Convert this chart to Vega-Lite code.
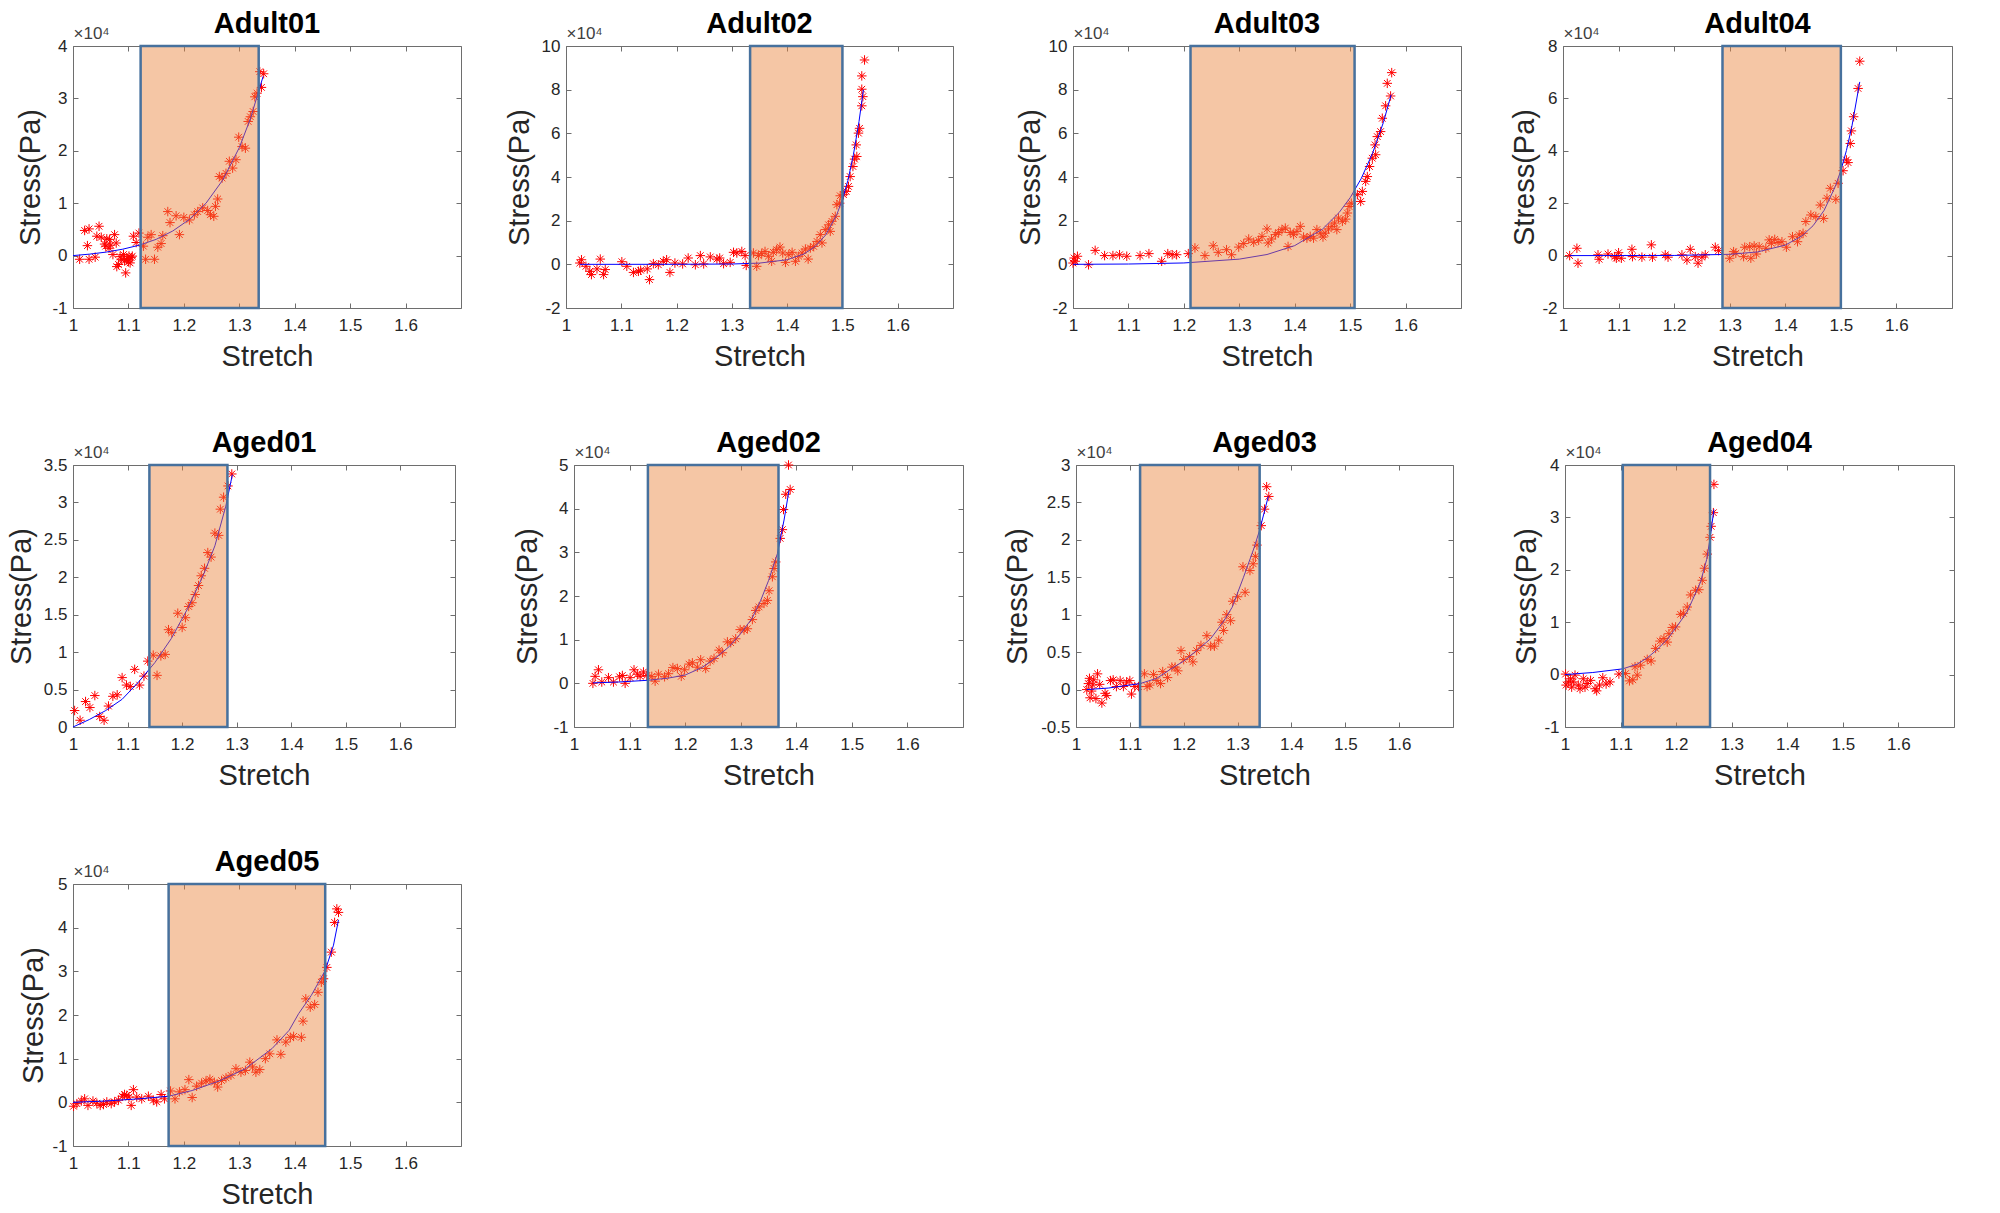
{
"$schema": "https://vega.github.io/schema/vega-lite/v6.json",
"background": "white",
"padding": {"left": 6, "top": 9, "right": 0, "bottom": 0},
"datasets": {
"reg": [
{"s":"Adult01","x0":1.122,"x1":1.335},{"s":"Adult02","x0":1.333,"x1":1.5},{"s":"Adult03","x0":1.212,"x1":1.508},{"s":"Adult04","x0":1.287,"x1":1.5},
{"s":"Aged01","x0":1.14,"x1":1.283},{"s":"Aged02","x0":1.133,"x1":1.368},{"s":"Aged03","x0":1.119,"x1":1.341},{"s":"Aged04","x0":1.104,"x1":1.261},{"s":"Aged05","x0":1.1725,"x1":1.455}
],
"fit": [
{"s":"Adult01","x":1.0,"y":0},{"s":"Adult01","x":1.03,"y":0.028},{"s":"Adult01","x":1.06,"y":0.067},{"s":"Adult01","x":1.09,"y":0.123},{"s":"Adult01","x":1.12,"y":0.2},{"s":"Adult01","x":1.15,"y":0.31},{"s":"Adult01","x":1.18,"y":0.47},{"s":"Adult01","x":1.21,"y":0.69},{"s":"Adult01","x":1.24,"y":1.0},{"s":"Adult01","x":1.27,"y":1.44},{"s":"Adult01","x":1.3,"y":2.06},{"s":"Adult01","x":1.32,"y":2.61},{"s":"Adult01","x":1.343,"y":3.42},
{"s":"Adult02","x":1.025,"y":0},{"s":"Adult02","x":1.1,"y":0},{"s":"Adult02","x":1.2,"y":0.002},{"s":"Adult02","x":1.3,"y":0.015},{"s":"Adult02","x":1.35,"y":0.057},{"s":"Adult02","x":1.4,"y":0.21},{"s":"Adult02","x":1.43,"y":0.47},{"s":"Adult02","x":1.45,"y":0.8},{"s":"Adult02","x":1.47,"y":1.35},{"s":"Adult02","x":1.49,"y":2.29},{"s":"Adult02","x":1.5,"y":2.97},{"s":"Adult02","x":1.51,"y":3.85},{"s":"Adult02","x":1.52,"y":5.04},{"s":"Adult02","x":1.53,"y":6.54},{"s":"Adult02","x":1.538,"y":8.0},
{"s":"Adult03","x":1.0,"y":0},{"s":"Adult03","x":1.1,"y":0.014},{"s":"Adult03","x":1.2,"y":0.063},{"s":"Adult03","x":1.3,"y":0.238},{"s":"Adult03","x":1.35,"y":0.45},{"s":"Adult03","x":1.4,"y":0.857},{"s":"Adult03","x":1.45,"y":1.61},{"s":"Adult03","x":1.48,"y":2.37},{"s":"Adult03","x":1.5,"y":3.05},{"s":"Adult03","x":1.52,"y":3.93},{"s":"Adult03","x":1.54,"y":5.06},{"s":"Adult03","x":1.56,"y":6.5},{"s":"Adult03","x":1.574,"y":7.77},
{"s":"Adult04","x":1.012,"y":0},{"s":"Adult04","x":1.1,"y":0.001},{"s":"Adult04","x":1.2,"y":0.006},{"s":"Adult04","x":1.3,"y":0.049},{"s":"Adult04","x":1.35,"y":0.14},{"s":"Adult04","x":1.4,"y":0.4},{"s":"Adult04","x":1.43,"y":0.75},{"s":"Adult04","x":1.45,"y":1.14},{"s":"Adult04","x":1.47,"y":1.73},{"s":"Adult04","x":1.49,"y":2.64},{"s":"Adult04","x":1.5,"y":3.25},{"s":"Adult04","x":1.51,"y":4.01},{"s":"Adult04","x":1.52,"y":4.95},{"s":"Adult04","x":1.534,"y":6.63},
{"s":"Aged01","x":1.0,"y":0},{"s":"Aged01","x":1.03,"y":0.1},{"s":"Aged01","x":1.06,"y":0.22},{"s":"Aged01","x":1.09,"y":0.37},{"s":"Aged01","x":1.12,"y":0.6},{"s":"Aged01","x":1.15,"y":0.86},{"s":"Aged01","x":1.18,"y":1.18},{"s":"Aged01","x":1.21,"y":1.58},{"s":"Aged01","x":1.24,"y":2.05},{"s":"Aged01","x":1.26,"y":2.42},{"s":"Aged01","x":1.28,"y":2.95},{"s":"Aged01","x":1.292,"y":3.37},
{"s":"Aged02","x":1.034,"y":0.01},{"s":"Aged02","x":1.08,"y":0.03},{"s":"Aged02","x":1.133,"y":0.07},{"s":"Aged02","x":1.17,"y":0.12},{"s":"Aged02","x":1.2,"y":0.19},{"s":"Aged02","x":1.23,"y":0.36},{"s":"Aged02","x":1.252,"y":0.55},{"s":"Aged02","x":1.28,"y":0.85},{"s":"Aged02","x":1.3,"y":1.14},{"s":"Aged02","x":1.32,"y":1.48},{"s":"Aged02","x":1.336,"y":1.9},{"s":"Aged02","x":1.35,"y":2.35},{"s":"Aged02","x":1.366,"y":2.97},{"s":"Aged02","x":1.378,"y":3.74},{"s":"Aged02","x":1.387,"y":4.43},
{"s":"Aged03","x":1.02,"y":0},{"s":"Aged03","x":1.06,"y":0.02},{"s":"Aged03","x":1.119,"y":0.08},{"s":"Aged03","x":1.15,"y":0.15},{"s":"Aged03","x":1.175,"y":0.27},{"s":"Aged03","x":1.2,"y":0.38},{"s":"Aged03","x":1.224,"y":0.52},{"s":"Aged03","x":1.25,"y":0.68},{"s":"Aged03","x":1.273,"y":0.9},{"s":"Aged03","x":1.29,"y":1.1},{"s":"Aged03","x":1.311,"y":1.5},{"s":"Aged03","x":1.33,"y":1.88},{"s":"Aged03","x":1.341,"y":2.13},{"s":"Aged03","x":1.357,"y":2.58},
{"s":"Aged04","x":1.0,"y":0},{"s":"Aged04","x":1.05,"y":0.04},{"s":"Aged04","x":1.104,"y":0.11},{"s":"Aged04","x":1.13,"y":0.2},{"s":"Aged04","x":1.148,"y":0.32},{"s":"Aged04","x":1.165,"y":0.47},{"s":"Aged04","x":1.184,"y":0.67},{"s":"Aged04","x":1.2,"y":0.9},{"s":"Aged04","x":1.22,"y":1.2},{"s":"Aged04","x":1.244,"y":1.77},{"s":"Aged04","x":1.255,"y":2.2},{"s":"Aged04","x":1.2606,"y":2.57},{"s":"Aged04","x":1.268,"y":3.15},
{"s":"Aged05","x":1.0,"y":0},{"s":"Aged05","x":1.058,"y":0.03},{"s":"Aged05","x":1.119,"y":0.08},{"s":"Aged05","x":1.1725,"y":0.14},{"s":"Aged05","x":1.215,"y":0.27},{"s":"Aged05","x":1.264,"y":0.49},{"s":"Aged05","x":1.311,"y":0.77},{"s":"Aged05","x":1.359,"y":1.23},{"s":"Aged05","x":1.39,"y":1.65},{"s":"Aged05","x":1.407,"y":2.03},{"s":"Aged05","x":1.43,"y":2.45},{"s":"Aged05","x":1.455,"y":3.02},{"s":"Aged05","x":1.47,"y":3.6},{"s":"Aged05","x":1.479,"y":4.18}
],
"pts": [
{"s":"Adult01","x":1.012,"y":-0.07},{"s":"Adult01","x":1.021,"y":0.48},{"s":"Adult01","x":1.029,"y":0.51},{"s":"Adult01","x":1.026,"y":0.19},{"s":"Adult01","x":1.029,"y":-0.07},{"s":"Adult01","x":1.04,"y":-0.03},{"s":"Adult01","x":1.047,"y":0.56},{"s":"Adult01","x":1.043,"y":0.37},{"s":"Adult01","x":1.051,"y":0.35},{"s":"Adult01","x":1.059,"y":0.18},{"s":"Adult01","x":1.061,"y":0.32},{"s":"Adult01","x":1.066,"y":0.31},{"s":"Adult01","x":1.065,"y":0.14},{"s":"Adult01","x":1.075,"y":0.4},{"s":"Adult01","x":1.072,"y":0.02},{"s":"Adult01","x":1.078,"y":0.24},{"s":"Adult01","x":1.079,"y":-0.21},{"s":"Adult01","x":1.082,"y":-0.17},{"s":"Adult01","x":1.087,"y":-0.07},{"s":"Adult01","x":1.091,"y":0.02},{"s":"Adult01","x":1.095,"y":-0.33},{"s":"Adult01","x":1.097,"y":-0.08},{"s":"Adult01","x":1.101,"y":-0.01},{"s":"Adult01","x":1.105,"y":-0.04},{"s":"Adult01","x":1.107,"y":-0.01},{"s":"Adult01","x":1.103,"y":-0.14},{"s":"Adult01","x":1.098,"y":-0.05},{"s":"Adult01","x":1.1,"y":-0.12},{"s":"Adult01","x":1.093,"y":-0.1},{"s":"Adult01","x":1.085,"y":-0.02},{"s":"Adult01","x":1.068,"y":0.2},{"s":"Adult01","x":1.057,"y":0.22},{"s":"Adult01","x":1.109,"y":0.37},{"s":"Adult01","x":1.114,"y":0.25},{"s":"Adult01","x":1.119,"y":0.43},{"s":"Adult01","x":1.127,"y":0.18},{"s":"Adult01","x":1.131,"y":-0.07},{"s":"Adult01","x":1.135,"y":0.35},{"s":"Adult01","x":1.141,"y":0.4},{"s":"Adult01","x":1.147,"y":-0.07},{"s":"Adult01","x":1.153,"y":0.16},{"s":"Adult01","x":1.159,"y":0.23},{"s":"Adult01","x":1.162,"y":0.38},{"s":"Adult01","x":1.171,"y":0.84},{"s":"Adult01","x":1.175,"y":0.63},{"s":"Adult01","x":1.186,"y":0.76},{"s":"Adult01","x":1.192,"y":0.4},{"s":"Adult01","x":1.2,"y":0.73},{"s":"Adult01","x":1.21,"y":0.68},{"s":"Adult01","x":1.219,"y":0.78},{"s":"Adult01","x":1.225,"y":0.84},{"s":"Adult01","x":1.234,"y":0.91},{"s":"Adult01","x":1.243,"y":0.86},{"s":"Adult01","x":1.248,"y":0.78},{"s":"Adult01","x":1.254,"y":0.75},{"s":"Adult01","x":1.257,"y":0.94},{"s":"Adult01","x":1.261,"y":1.08},{"s":"Adult01","x":1.264,"y":1.51},{"s":"Adult01","x":1.269,"y":1.48},{"s":"Adult01","x":1.276,"y":1.57},{"s":"Adult01","x":1.282,"y":1.8},{"s":"Adult01","x":1.288,"y":1.67},{"s":"Adult01","x":1.294,"y":1.83},{"s":"Adult01","x":1.299,"y":2.26},{"s":"Adult01","x":1.305,"y":2.08},{"s":"Adult01","x":1.311,"y":2.05},{"s":"Adult01","x":1.316,"y":2.56},{"s":"Adult01","x":1.32,"y":2.65},{"s":"Adult01","x":1.325,"y":2.75},{"s":"Adult01","x":1.328,"y":3.03},{"s":"Adult01","x":1.332,"y":3.1},{"s":"Adult01","x":1.34,"y":3.21},{"s":"Adult01","x":1.337,"y":3.51},{"s":"Adult01","x":1.344,"y":3.47},
{"s":"Adult02","x":1.025,"y":0.06},{"s":"Adult02","x":1.028,"y":0.21},{"s":"Adult02","x":1.036,"y":-0.09},{"s":"Adult02","x":1.043,"y":-0.32},{"s":"Adult02","x":1.046,"y":-0.47},{"s":"Adult02","x":1.056,"y":-0.21},{"s":"Adult02","x":1.062,"y":0.24},{"s":"Adult02","x":1.068,"y":-0.47},{"s":"Adult02","x":1.071,"y":-0.24},{"s":"Adult02","x":1.101,"y":0.12},{"s":"Adult02","x":1.11,"y":-0.09},{"s":"Adult02","x":1.122,"y":-0.37},{"s":"Adult02","x":1.131,"y":-0.32},{"s":"Adult02","x":1.135,"y":-0.27},{"s":"Adult02","x":1.151,"y":-0.7},{"s":"Adult02","x":1.147,"y":-0.21},{"s":"Adult02","x":1.158,"y":0.03},{"s":"Adult02","x":1.167,"y":-0.02},{"s":"Adult02","x":1.176,"y":0.14},{"s":"Adult02","x":1.182,"y":0.21},{"s":"Adult02","x":1.188,"y":-0.37},{"s":"Adult02","x":1.197,"y":0.06},{"s":"Adult02","x":1.211,"y":0.02},{"s":"Adult02","x":1.221,"y":0.29},{"s":"Adult02","x":1.234,"y":-0.02},{"s":"Adult02","x":1.243,"y":0.4},{"s":"Adult02","x":1.249,"y":0.02},{"s":"Adult02","x":1.261,"y":0.34},{"s":"Adult02","x":1.273,"y":0.24},{"s":"Adult02","x":1.278,"y":0.29},{"s":"Adult02","x":1.285,"y":0.03},{"s":"Adult02","x":1.297,"y":0.09},{"s":"Adult02","x":1.303,"y":0.55},{"s":"Adult02","x":1.309,"y":0.52},{"s":"Adult02","x":1.318,"y":0.59},{"s":"Adult02","x":1.324,"y":0.4},{"s":"Adult02","x":1.326,"y":-0.05},{"s":"Adult02","x":1.339,"y":0.52},{"s":"Adult02","x":1.345,"y":-0.09},{"s":"Adult02","x":1.348,"y":0.4},{"s":"Adult02","x":1.354,"y":0.49},{"s":"Adult02","x":1.36,"y":0.59},{"s":"Adult02","x":1.366,"y":0.37},{"s":"Adult02","x":1.372,"y":0.14},{"s":"Adult02","x":1.375,"y":0.55},{"s":"Adult02","x":1.381,"y":0.67},{"s":"Adult02","x":1.387,"y":0.79},{"s":"Adult02","x":1.392,"y":0.52},{"s":"Adult02","x":1.397,"y":0.09},{"s":"Adult02","x":1.403,"y":0.44},{"s":"Adult02","x":1.409,"y":0.55},{"s":"Adult02","x":1.415,"y":0.14},{"s":"Adult02","x":1.421,"y":0.37},{"s":"Adult02","x":1.427,"y":0.52},{"s":"Adult02","x":1.433,"y":0.7},{"s":"Adult02","x":1.438,"y":0.24},{"s":"Adult02","x":1.442,"y":0.75},{"s":"Adult02","x":1.448,"y":0.82},{"s":"Adult02","x":1.454,"y":1.05},{"s":"Adult02","x":1.46,"y":1.36},{"s":"Adult02","x":1.463,"y":0.98},{"s":"Adult02","x":1.469,"y":1.59},{"s":"Adult02","x":1.475,"y":1.81},{"s":"Adult02","x":1.478,"y":1.51},{"s":"Adult02","x":1.481,"y":1.97},{"s":"Adult02","x":1.487,"y":2.2},{"s":"Adult02","x":1.49,"y":2.73},{"s":"Adult02","x":1.495,"y":2.8},{"s":"Adult02","x":1.496,"y":3.14},{"s":"Adult02","x":1.502,"y":3.19},{"s":"Adult02","x":1.507,"y":3.34},{"s":"Adult02","x":1.511,"y":3.57},{"s":"Adult02","x":1.514,"y":4.02},{"s":"Adult02","x":1.519,"y":4.48},{"s":"Adult02","x":1.522,"y":4.82},{"s":"Adult02","x":1.526,"y":4.94},{"s":"Adult02","x":1.525,"y":5.47},{"s":"Adult02","x":1.529,"y":6.01},{"s":"Adult02","x":1.531,"y":6.23},{"s":"Adult02","x":1.535,"y":7.26},{"s":"Adult02","x":1.537,"y":7.68},{"s":"Adult02","x":1.535,"y":8.02},{"s":"Adult02","x":1.535,"y":8.63},{"s":"Adult02","x":1.54,"y":9.36},
{"s":"Adult03","x":1.0,"y":0.06},{"s":"Adult03","x":1.002,"y":0.29},{"s":"Adult03","x":1.004,"y":0.14},{"s":"Adult03","x":1.008,"y":0.37},{"s":"Adult03","x":1.028,"y":-0.02},{"s":"Adult03","x":1.04,"y":0.64},{"s":"Adult03","x":1.057,"y":0.4},{"s":"Adult03","x":1.072,"y":0.4},{"s":"Adult03","x":1.084,"y":0.44},{"s":"Adult03","x":1.097,"y":0.37},{"s":"Adult03","x":1.121,"y":0.4},{"s":"Adult03","x":1.137,"y":0.49},{"s":"Adult03","x":1.16,"y":0.14},{"s":"Adult03","x":1.171,"y":0.49},{"s":"Adult03","x":1.179,"y":0.44},{"s":"Adult03","x":1.187,"y":0.44},{"s":"Adult03","x":1.208,"y":0.49},{"s":"Adult03","x":1.22,"y":0.75},{"s":"Adult03","x":1.238,"y":0.4},{"s":"Adult03","x":1.253,"y":0.85},{"s":"Adult03","x":1.262,"y":0.55},{"s":"Adult03","x":1.277,"y":0.67},{"s":"Adult03","x":1.286,"y":0.44},{"s":"Adult03","x":1.299,"y":0.79},{"s":"Adult03","x":1.308,"y":0.95},{"s":"Adult03","x":1.317,"y":1.16},{"s":"Adult03","x":1.326,"y":1.01},{"s":"Adult03","x":1.335,"y":1.1},{"s":"Adult03","x":1.341,"y":1.28},{"s":"Adult03","x":1.35,"y":1.62},{"s":"Adult03","x":1.352,"y":0.98},{"s":"Adult03","x":1.358,"y":1.16},{"s":"Adult03","x":1.365,"y":1.36},{"s":"Adult03","x":1.371,"y":1.46},{"s":"Adult03","x":1.377,"y":1.59},{"s":"Adult03","x":1.383,"y":1.66},{"s":"Adult03","x":1.388,"y":0.82},{"s":"Adult03","x":1.392,"y":1.46},{"s":"Adult03","x":1.398,"y":1.36},{"s":"Adult03","x":1.404,"y":1.51},{"s":"Adult03","x":1.41,"y":1.74},{"s":"Adult03","x":1.416,"y":1.25},{"s":"Adult03","x":1.422,"y":1.2},{"s":"Adult03","x":1.428,"y":1.28},{"s":"Adult03","x":1.434,"y":1.2},{"s":"Adult03","x":1.44,"y":1.59},{"s":"Adult03","x":1.446,"y":1.43},{"s":"Adult03","x":1.451,"y":1.25},{"s":"Adult03","x":1.455,"y":1.43},{"s":"Adult03","x":1.461,"y":1.62},{"s":"Adult03","x":1.467,"y":1.74},{"s":"Adult03","x":1.472,"y":1.89},{"s":"Adult03","x":1.476,"y":1.59},{"s":"Adult03","x":1.479,"y":2.12},{"s":"Adult03","x":1.486,"y":1.97},{"s":"Adult03","x":1.492,"y":2.07},{"s":"Adult03","x":1.495,"y":2.35},{"s":"Adult03","x":1.498,"y":2.65},{"s":"Adult03","x":1.502,"y":2.8},{"s":"Adult03","x":1.513,"y":3.19},{"s":"Adult03","x":1.519,"y":2.88},{"s":"Adult03","x":1.522,"y":3.34},{"s":"Adult03","x":1.528,"y":3.8},{"s":"Adult03","x":1.531,"y":4.02},{"s":"Adult03","x":1.535,"y":4.48},{"s":"Adult03","x":1.54,"y":4.86},{"s":"Adult03","x":1.546,"y":5.02},{"s":"Adult03","x":1.545,"y":5.47},{"s":"Adult03","x":1.549,"y":5.85},{"s":"Adult03","x":1.555,"y":6.08},{"s":"Adult03","x":1.558,"y":6.69},{"s":"Adult03","x":1.564,"y":7.26},{"s":"Adult03","x":1.567,"y":8.29},{"s":"Adult03","x":1.573,"y":7.71},{"s":"Adult03","x":1.575,"y":8.78},
{"s":"Adult04","x":1.012,"y":0},{"s":"Adult04","x":1.025,"y":0.28},{"s":"Adult04","x":1.027,"y":-0.29},{"s":"Adult04","x":1.063,"y":0.03},{"s":"Adult04","x":1.065,"y":-0.14},{"s":"Adult04","x":1.081,"y":0.06},{"s":"Adult04","x":1.093,"y":-0.04},{"s":"Adult04","x":1.096,"y":-0.1},{"s":"Adult04","x":1.1,"y":0.11},{"s":"Adult04","x":1.105,"y":-0.1},{"s":"Adult04","x":1.124,"y":0.24},{"s":"Adult04","x":1.125,"y":-0.04},{"s":"Adult04","x":1.142,"y":-0.06},{"s":"Adult04","x":1.159,"y":0.41},{"s":"Adult04","x":1.161,"y":-0.06},{"s":"Adult04","x":1.184,"y":0.03},{"s":"Adult04","x":1.189,"y":-0.06},{"s":"Adult04","x":1.214,"y":0.03},{"s":"Adult04","x":1.223,"y":-0.17},{"s":"Adult04","x":1.229,"y":0.24},{"s":"Adult04","x":1.238,"y":-0.04},{"s":"Adult04","x":1.243,"y":-0.29},{"s":"Adult04","x":1.25,"y":-0.06},{"s":"Adult04","x":1.256,"y":0.03},{"s":"Adult04","x":1.274,"y":0.32},{"s":"Adult04","x":1.28,"y":0.19},{"s":"Adult04","x":1.3,"y":-0.1},{"s":"Adult04","x":1.307,"y":0.15},{"s":"Adult04","x":1.311,"y":0.09},{"s":"Adult04","x":1.327,"y":0.32},{"s":"Adult04","x":1.325,"y":-0.04},{"s":"Adult04","x":1.336,"y":0.34},{"s":"Adult04","x":1.338,"y":-0.1},{"s":"Adult04","x":1.344,"y":0.37},{"s":"Adult04","x":1.348,"y":0.06},{"s":"Adult04","x":1.353,"y":0.34},{"s":"Adult04","x":1.365,"y":0.28},{"s":"Adult04","x":1.371,"y":0.6},{"s":"Adult04","x":1.375,"y":0.47},{"s":"Adult04","x":1.381,"y":0.62},{"s":"Adult04","x":1.387,"y":0.5},{"s":"Adult04","x":1.394,"y":0.53},{"s":"Adult04","x":1.402,"y":0.32},{"s":"Adult04","x":1.413,"y":0.72},{"s":"Adult04","x":1.422,"y":0.53},{"s":"Adult04","x":1.425,"y":0.79},{"s":"Adult04","x":1.432,"y":0.85},{"s":"Adult04","x":1.437,"y":1.3},{"s":"Adult04","x":1.446,"y":1.55},{"s":"Adult04","x":1.455,"y":1.49},{"s":"Adult04","x":1.463,"y":1.93},{"s":"Adult04","x":1.469,"y":1.42},{"s":"Adult04","x":1.475,"y":2.19},{"s":"Adult04","x":1.481,"y":2.57},{"s":"Adult04","x":1.491,"y":2.15},{"s":"Adult04","x":1.495,"y":2.76},{"s":"Adult04","x":1.504,"y":3.24},{"s":"Adult04","x":1.51,"y":3.65},{"s":"Adult04","x":1.513,"y":3.55},{"s":"Adult04","x":1.517,"y":4.28},{"s":"Adult04","x":1.519,"y":4.76},{"s":"Adult04","x":1.523,"y":5.3},{"s":"Adult04","x":1.531,"y":6.38},{"s":"Adult04","x":1.534,"y":7.42},
{"s":"Aged01","x":1.003,"y":0.22},{"s":"Aged01","x":1.013,"y":0.09},{"s":"Aged01","x":1.023,"y":0.34},{"s":"Aged01","x":1.031,"y":0.26},{"s":"Aged01","x":1.04,"y":0.42},{"s":"Aged01","x":1.049,"y":0.14},{"s":"Aged01","x":1.057,"y":0.09},{"s":"Aged01","x":1.065,"y":0.28},{"s":"Aged01","x":1.073,"y":0.41},{"s":"Aged01","x":1.081,"y":0.43},{"s":"Aged01","x":1.09,"y":0.66},{"s":"Aged01","x":1.098,"y":0.56},{"s":"Aged01","x":1.105,"y":0.54},{"s":"Aged01","x":1.113,"y":0.77},{"s":"Aged01","x":1.122,"y":0.56},{"s":"Aged01","x":1.13,"y":0.68},{"s":"Aged01","x":1.137,"y":0.88},{"s":"Aged01","x":1.147,"y":0.96},{"s":"Aged01","x":1.154,"y":0.69},{"s":"Aged01","x":1.161,"y":0.95},{"s":"Aged01","x":1.169,"y":0.97},{"s":"Aged01","x":1.175,"y":1.3},{"s":"Aged01","x":1.181,"y":1.26},{"s":"Aged01","x":1.192,"y":1.52},{"s":"Aged01","x":1.2,"y":1.33},{"s":"Aged01","x":1.206,"y":1.46},{"s":"Aged01","x":1.212,"y":1.61},{"s":"Aged01","x":1.218,"y":1.66},{"s":"Aged01","x":1.224,"y":1.77},{"s":"Aged01","x":1.23,"y":1.89},{"s":"Aged01","x":1.235,"y":2.02},{"s":"Aged01","x":1.241,"y":2.12},{"s":"Aged01","x":1.247,"y":2.33},{"s":"Aged01","x":1.253,"y":2.27},{"s":"Aged01","x":1.26,"y":2.59},{"s":"Aged01","x":1.267,"y":2.56},{"s":"Aged01","x":1.27,"y":2.91},{"s":"Aged01","x":1.276,"y":3.07},{"s":"Aged01","x":1.284,"y":3.22},{"s":"Aged01","x":1.291,"y":3.38},
{"s":"Aged02","x":1.034,"y":0},{"s":"Aged02","x":1.038,"y":0.16},{"s":"Aged02","x":1.044,"y":0.31},{"s":"Aged02","x":1.05,"y":0.03},{"s":"Aged02","x":1.062,"y":0.13},{"s":"Aged02","x":1.071,"y":0.03},{"s":"Aged02","x":1.082,"y":0.15},{"s":"Aged02","x":1.087,"y":0.18},{"s":"Aged02","x":1.092,"y":0},{"s":"Aged02","x":1.101,"y":0.13},{"s":"Aged02","x":1.108,"y":0.31},{"s":"Aged02","x":1.114,"y":0.21},{"s":"Aged02","x":1.119,"y":0.16},{"s":"Aged02","x":1.125,"y":0.26},{"s":"Aged02","x":1.131,"y":0.18},{"s":"Aged02","x":1.14,"y":0.16},{"s":"Aged02","x":1.146,"y":0.05},{"s":"Aged02","x":1.152,"y":0.21},{"s":"Aged02","x":1.163,"y":0.15},{"s":"Aged02","x":1.17,"y":0.22},{"s":"Aged02","x":1.178,"y":0.36},{"s":"Aged02","x":1.186,"y":0.34},{"s":"Aged02","x":1.193,"y":0.16},{"s":"Aged02","x":1.199,"y":0.31},{"s":"Aged02","x":1.207,"y":0.44},{"s":"Aged02","x":1.213,"y":0.47},{"s":"Aged02","x":1.222,"y":0.37},{"s":"Aged02","x":1.228,"y":0.54},{"s":"Aged02","x":1.237,"y":0.34},{"s":"Aged02","x":1.245,"y":0.51},{"s":"Aged02","x":1.252,"y":0.57},{"s":"Aged02","x":1.261,"y":0.76},{"s":"Aged02","x":1.267,"y":0.7},{"s":"Aged02","x":1.276,"y":0.95},{"s":"Aged02","x":1.282,"y":0.93},{"s":"Aged02","x":1.291,"y":1.02},{"s":"Aged02","x":1.299,"y":1.23},{"s":"Aged02","x":1.306,"y":1.22},{"s":"Aged02","x":1.312,"y":1.25},{"s":"Aged02","x":1.321,"y":1.46},{"s":"Aged02","x":1.327,"y":1.67},{"s":"Aged02","x":1.333,"y":1.75},{"s":"Aged02","x":1.342,"y":1.83},{"s":"Aged02","x":1.348,"y":1.9},{"s":"Aged02","x":1.351,"y":2.12},{"s":"Aged02","x":1.357,"y":2.44},{"s":"Aged02","x":1.36,"y":2.63},{"s":"Aged02","x":1.363,"y":2.78},{"s":"Aged02","x":1.371,"y":3.32},{"s":"Aged02","x":1.375,"y":3.52},{"s":"Aged02","x":1.377,"y":3.98},{"s":"Aged02","x":1.381,"y":4.33},{"s":"Aged02","x":1.389,"y":4.44},{"s":"Aged02","x":1.386,"y":5.0},
{"s":"Aged03","x":1.02,"y":0},{"s":"Aged03","x":1.023,"y":0.08},{"s":"Aged03","x":1.025,"y":0.15},{"s":"Aged03","x":1.026,"y":-0.11},{"s":"Aged03","x":1.029,"y":-0.02},{"s":"Aged03","x":1.031,"y":0.06},{"s":"Aged03","x":1.033,"y":0.13},{"s":"Aged03","x":1.037,"y":-0.12},{"s":"Aged03","x":1.04,"y":0.21},{"s":"Aged03","x":1.044,"y":0.07},{"s":"Aged03","x":1.048,"y":-0.18},{"s":"Aged03","x":1.054,"y":-0.05},{"s":"Aged03","x":1.057,"y":-0.08},{"s":"Aged03","x":1.064,"y":0.12},{"s":"Aged03","x":1.069,"y":0.13},{"s":"Aged03","x":1.075,"y":0.04},{"s":"Aged03","x":1.082,"y":0.12},{"s":"Aged03","x":1.088,"y":0.04},{"s":"Aged03","x":1.094,"y":0.1},{"s":"Aged03","x":1.1,"y":0.12},{"s":"Aged03","x":1.103,"y":-0.06},{"s":"Aged03","x":1.109,"y":0.04},{"s":"Aged03","x":1.116,"y":0.04},{"s":"Aged03","x":1.127,"y":0.21},{"s":"Aged03","x":1.132,"y":0.04},{"s":"Aged03","x":1.137,"y":0.06},{"s":"Aged03","x":1.144,"y":0.2},{"s":"Aged03","x":1.15,"y":0.12},{"s":"Aged03","x":1.157,"y":0.08},{"s":"Aged03","x":1.161,"y":0.24},{"s":"Aged03","x":1.17,"y":0.16},{"s":"Aged03","x":1.178,"y":0.3},{"s":"Aged03","x":1.184,"y":0.3},{"s":"Aged03","x":1.189,"y":0.25},{"s":"Aged03","x":1.195,"y":0.52},{"s":"Aged03","x":1.2,"y":0.4},{"s":"Aged03","x":1.211,"y":0.44},{"s":"Aged03","x":1.217,"y":0.37},{"s":"Aged03","x":1.224,"y":0.52},{"s":"Aged03","x":1.232,"y":0.59},{"s":"Aged03","x":1.243,"y":0.72},{"s":"Aged03","x":1.25,"y":0.58},{"s":"Aged03","x":1.257,"y":0.58},{"s":"Aged03","x":1.265,"y":0.66},{"s":"Aged03","x":1.271,"y":0.9},{"s":"Aged03","x":1.274,"y":0.79},{"s":"Aged03","x":1.28,"y":1.0},{"s":"Aged03","x":1.287,"y":0.92},{"s":"Aged03","x":1.291,"y":1.18},{"s":"Aged03","x":1.3,"y":1.24},{"s":"Aged03","x":1.314,"y":1.3},{"s":"Aged03","x":1.31,"y":1.64},{"s":"Aged03","x":1.323,"y":1.59},{"s":"Aged03","x":1.329,"y":1.68},{"s":"Aged03","x":1.333,"y":1.78},{"s":"Aged03","x":1.336,"y":1.93},{"s":"Aged03","x":1.344,"y":2.19},{"s":"Aged03","x":1.35,"y":2.41},{"s":"Aged03","x":1.354,"y":2.71},{"s":"Aged03","x":1.358,"y":2.58},
{"s":"Aged04","x":1.001,"y":0.01},{"s":"Aged04","x":1.002,"y":-0.2},{"s":"Aged04","x":1.006,"y":-0.14},{"s":"Aged04","x":1.01,"y":-0.08},{"s":"Aged04","x":1.012,"y":-0.24},{"s":"Aged04","x":1.015,"y":-0.14},{"s":"Aged04","x":1.018,"y":-0.01},{"s":"Aged04","x":1.024,"y":-0.2},{"s":"Aged04","x":1.027,"y":-0.27},{"s":"Aged04","x":1.033,"y":-0.08},{"s":"Aged04","x":1.036,"y":-0.24},{"s":"Aged04","x":1.04,"y":-0.17},{"s":"Aged04","x":1.046,"y":-0.11},{"s":"Aged04","x":1.054,"y":-0.27},{"s":"Aged04","x":1.057,"y":-0.31},{"s":"Aged04","x":1.062,"y":-0.2},{"s":"Aged04","x":1.068,"y":-0.06},{"s":"Aged04","x":1.074,"y":-0.18},{"s":"Aged04","x":1.081,"y":-0.14},{"s":"Aged04","x":1.097,"y":0.01},{"s":"Aged04","x":1.109,"y":0.02},{"s":"Aged04","x":1.116,"y":-0.12},{"s":"Aged04","x":1.122,"y":-0.1},{"s":"Aged04","x":1.126,"y":0.15},{"s":"Aged04","x":1.13,"y":-0.01},{"s":"Aged04","x":1.136,"y":0.18},{"s":"Aged04","x":1.148,"y":0.29},{"s":"Aged04","x":1.155,"y":0.26},{"s":"Aged04","x":1.163,"y":0.5},{"s":"Aged04","x":1.171,"y":0.64},{"s":"Aged04","x":1.178,"y":0.69},{"s":"Aged04","x":1.184,"y":0.62},{"s":"Aged04","x":1.187,"y":0.78},{"s":"Aged04","x":1.193,"y":0.9},{"s":"Aged04","x":1.199,"y":0.91},{"s":"Aged04","x":1.208,"y":1.15},{"s":"Aged04","x":1.213,"y":1.17},{"s":"Aged04","x":1.22,"y":1.29},{"s":"Aged04","x":1.226,"y":1.52},{"s":"Aged04","x":1.235,"y":1.61},{"s":"Aged04","x":1.241,"y":1.62},{"s":"Aged04","x":1.247,"y":1.8},{"s":"Aged04","x":1.251,"y":2.03},{"s":"Aged04","x":1.256,"y":2.3},{"s":"Aged04","x":1.261,"y":2.62},{"s":"Aged04","x":1.263,"y":2.83},{"s":"Aged04","x":1.267,"y":3.09},{"s":"Aged04","x":1.268,"y":3.63},
{"s":"Aged05","x":1.001,"y":-0.09},{"s":"Aged05","x":1.007,"y":-0.03},{"s":"Aged05","x":1.015,"y":0.03},{"s":"Aged05","x":1.021,"y":0.08},{"s":"Aged05","x":1.027,"y":-0.07},{"s":"Aged05","x":1.036,"y":0.03},{"s":"Aged05","x":1.043,"y":-0.02},{"s":"Aged05","x":1.049,"y":-0.07},{"s":"Aged05","x":1.055,"y":-0.05},{"s":"Aged05","x":1.061,"y":0.01},{"s":"Aged05","x":1.069,"y":-0.03},{"s":"Aged05","x":1.075,"y":0.01},{"s":"Aged05","x":1.082,"y":0.05},{"s":"Aged05","x":1.089,"y":0.14},{"s":"Aged05","x":1.093,"y":0.18},{"s":"Aged05","x":1.097,"y":0.16},{"s":"Aged05","x":1.101,"y":0.12},{"s":"Aged05","x":1.105,"y":-0.07},{"s":"Aged05","x":1.109,"y":0.29},{"s":"Aged05","x":1.115,"y":0.12},{"s":"Aged05","x":1.124,"y":0.08},{"s":"Aged05","x":1.136,"y":0.14},{"s":"Aged05","x":1.145,"y":0.05},{"s":"Aged05","x":1.151,"y":0.01},{"s":"Aged05","x":1.159,"y":0.18},{"s":"Aged05","x":1.165,"y":0.08},{"s":"Aged05","x":1.176,"y":0.26},{"s":"Aged05","x":1.184,"y":0.08},{"s":"Aged05","x":1.192,"y":0.24},{"s":"Aged05","x":1.202,"y":0.29},{"s":"Aged05","x":1.209,"y":0.52},{"s":"Aged05","x":1.215,"y":0.11},{"s":"Aged05","x":1.223,"y":0.37},{"s":"Aged05","x":1.232,"y":0.44},{"s":"Aged05","x":1.24,"y":0.49},{"s":"Aged05","x":1.247,"y":0.53},{"s":"Aged05","x":1.255,"y":0.46},{"s":"Aged05","x":1.261,"y":0.35},{"s":"Aged05","x":1.268,"y":0.5},{"s":"Aged05","x":1.276,"y":0.56},{"s":"Aged05","x":1.285,"y":0.62},{"s":"Aged05","x":1.294,"y":0.77},{"s":"Aged05","x":1.303,"y":0.69},{"s":"Aged05","x":1.311,"y":0.73},{"s":"Aged05","x":1.319,"y":0.92},{"s":"Aged05","x":1.324,"y":0.81},{"s":"Aged05","x":1.33,"y":0.69},{"s":"Aged05","x":1.337,"y":0.75},{"s":"Aged05","x":1.347,"y":1.0},{"s":"Aged05","x":1.355,"y":1.11},{"s":"Aged05","x":1.368,"y":1.43},{"s":"Aged05","x":1.375,"y":1.1},{"s":"Aged05","x":1.384,"y":1.38},{"s":"Aged05","x":1.392,"y":1.49},{"s":"Aged05","x":1.398,"y":1.51},{"s":"Aged05","x":1.412,"y":1.49},{"s":"Aged05","x":1.415,"y":1.86},{"s":"Aged05","x":1.42,"y":2.37},{"s":"Aged05","x":1.428,"y":2.18},{"s":"Aged05","x":1.436,"y":2.24},{"s":"Aged05","x":1.442,"y":2.52},{"s":"Aged05","x":1.448,"y":2.75},{"s":"Aged05","x":1.452,"y":2.83},{"s":"Aged05","x":1.458,"y":3.09},{"s":"Aged05","x":1.466,"y":3.44},{"s":"Aged05","x":1.472,"y":4.12},{"s":"Aged05","x":1.476,"y":4.43},{"s":"Aged05","x":1.479,"y":4.35}
]
},
"concat": [
{"hconcat": [
 {"hconcat": [
  {"width": 388, "height": 262, "title": "Adult01",
   "layer": [
    {"data": {"name": "pts"}, "transform": [{"filter": "datum.s === 'Adult01'"}], "mark": {"type": "point", "shape": "M-1,0L1,0M0,-1L0,1M-0.7,-0.7L0.7,0.7M-0.7,0.7L0.7,-0.7", "size": 90, "stroke": "#ff0000", "strokeWidth": 1, "filled": false, "opacity": 1},
     "encoding": {"x": {"field": "x", "type": "quantitative", "scale": {"domain": [1, 1.7], "nice": false, "zero": false}, "axis": {"orient": "bottom", "values": [1, 1.1, 1.2, 1.3, 1.4, 1.5, 1.6], "format": "~r", "title": "Stretch"}},
                  "y": {"field": "y", "type": "quantitative", "scale": {"domain": [-1, 4], "nice": false, "zero": false}, "axis": {"orient": "left", "values": [-1, 0, 1, 2, 3, 4], "labelExpr": "replace(format(datum.value, '~r'), '−', '-')", "title": "Stress(Pa)", "titlePadding": 6}}}},
    {"data": {"name": "fit"}, "transform": [{"filter": "datum.s === 'Adult01'"}], "mark": {"type": "line", "color": "#0000ff", "strokeWidth": 1},
     "encoding": {"x": {"field": "x", "type": "quantitative", "scale": {"domain": [1, 1.7], "nice": false, "zero": false}, "axis": {"orient": "top", "values": [1, 1.1, 1.2, 1.3, 1.4, 1.5, 1.6], "title": "×10⁴"}},
                  "y": {"field": "y", "type": "quantitative", "scale": {"domain": [-1, 4], "nice": false, "zero": false}, "axis": {"orient": "right", "values": [-1, 0, 1, 2, 3, 4], "title": null}}}},
    {"data": {"name": "reg"}, "transform": [{"filter": "datum.s === 'Adult01'"}], "mark": {"type": "rect", "fill": "#E9833B", "fillOpacity": 0.46, "stroke": "#47719D", "strokeWidth": 2.5, "strokeOpacity": 1},
     "encoding": {"x": {"field": "x0", "type": "quantitative", "scale": {"domain": [1, 1.7], "nice": false, "zero": false}, "axis": null}, "x2": {"field": "x1"}}}
   ],
   "resolve": {"axis": {"x": "independent", "y": "independent"}}},
  {"width": 387, "height": 262, "title": "Adult02",
   "layer": [
    {"data": {"name": "pts"}, "transform": [{"filter": "datum.s === 'Adult02'"}], "mark": {"type": "point", "shape": "M-1,0L1,0M0,-1L0,1M-0.7,-0.7L0.7,0.7M-0.7,0.7L0.7,-0.7", "size": 90, "stroke": "#ff0000", "strokeWidth": 1, "filled": false, "opacity": 1},
     "encoding": {"x": {"field": "x", "type": "quantitative", "scale": {"domain": [1, 1.7], "nice": false, "zero": false}, "axis": {"orient": "bottom", "values": [1, 1.1, 1.2, 1.3, 1.4, 1.5, 1.6], "format": "~r", "title": "Stretch"}},
                  "y": {"field": "y", "type": "quantitative", "scale": {"domain": [-2, 10], "nice": false, "zero": false}, "axis": {"orient": "left", "values": [-2, 0, 2, 4, 6, 8, 10], "labelExpr": "replace(format(datum.value, '~r'), '−', '-')", "title": "Stress(Pa)", "titlePadding": 7}}}},
    {"data": {"name": "fit"}, "transform": [{"filter": "datum.s === 'Adult02'"}], "mark": {"type": "line", "color": "#0000ff", "strokeWidth": 1},
     "encoding": {"x": {"field": "x", "type": "quantitative", "scale": {"domain": [1, 1.7], "nice": false, "zero": false}, "axis": {"orient": "top", "values": [1, 1.1, 1.2, 1.3, 1.4, 1.5, 1.6], "title": "×10⁴"}},
                  "y": {"field": "y", "type": "quantitative", "scale": {"domain": [-2, 10], "nice": false, "zero": false}, "axis": {"orient": "right", "values": [-2, 0, 2, 4, 6, 8, 10], "title": null}}}},
    {"data": {"name": "reg"}, "transform": [{"filter": "datum.s === 'Adult02'"}], "mark": {"type": "rect", "fill": "#E9833B", "fillOpacity": 0.46, "stroke": "#47719D", "strokeWidth": 2.5, "strokeOpacity": 1},
     "encoding": {"x": {"field": "x0", "type": "quantitative", "scale": {"domain": [1, 1.7], "nice": false, "zero": false}, "axis": null}, "x2": {"field": "x1"}}}
   ],
   "resolve": {"axis": {"x": "independent", "y": "independent"}}}
 ], "spacing": 42},
 {"hconcat": [
  {"width": 388, "height": 262, "title": "Adult03",
   "layer": [
    {"data": {"name": "pts"}, "transform": [{"filter": "datum.s === 'Adult03'"}], "mark": {"type": "point", "shape": "M-1,0L1,0M0,-1L0,1M-0.7,-0.7L0.7,0.7M-0.7,0.7L0.7,-0.7", "size": 90, "stroke": "#ff0000", "strokeWidth": 1, "filled": false, "opacity": 1},
     "encoding": {"x": {"field": "x", "type": "quantitative", "scale": {"domain": [1, 1.7], "nice": false, "zero": false}, "axis": {"orient": "bottom", "values": [1, 1.1, 1.2, 1.3, 1.4, 1.5, 1.6], "format": "~r", "title": "Stretch"}},
                  "y": {"field": "y", "type": "quantitative", "scale": {"domain": [-2, 10], "nice": false, "zero": false}, "axis": {"orient": "left", "values": [-2, 0, 2, 4, 6, 8, 10], "labelExpr": "replace(format(datum.value, '~r'), '−', '-')", "title": "Stress(Pa)", "titlePadding": 3}}}},
    {"data": {"name": "fit"}, "transform": [{"filter": "datum.s === 'Adult03'"}], "mark": {"type": "line", "color": "#0000ff", "strokeWidth": 1},
     "encoding": {"x": {"field": "x", "type": "quantitative", "scale": {"domain": [1, 1.7], "nice": false, "zero": false}, "axis": {"orient": "top", "values": [1, 1.1, 1.2, 1.3, 1.4, 1.5, 1.6], "title": "×10⁴"}},
                  "y": {"field": "y", "type": "quantitative", "scale": {"domain": [-2, 10], "nice": false, "zero": false}, "axis": {"orient": "right", "values": [-2, 0, 2, 4, 6, 8, 10], "title": null}}}},
    {"data": {"name": "reg"}, "transform": [{"filter": "datum.s === 'Adult03'"}], "mark": {"type": "rect", "fill": "#E9833B", "fillOpacity": 0.46, "stroke": "#47719D", "strokeWidth": 2.5, "strokeOpacity": 1},
     "encoding": {"x": {"field": "x0", "type": "quantitative", "scale": {"domain": [1, 1.7], "nice": false, "zero": false}, "axis": null}, "x2": {"field": "x1"}}}
   ],
   "resolve": {"axis": {"x": "independent", "y": "independent"}}},
  {"width": 389, "height": 262, "title": "Adult04",
   "layer": [
    {"data": {"name": "pts"}, "transform": [{"filter": "datum.s === 'Adult04'"}], "mark": {"type": "point", "shape": "M-1,0L1,0M0,-1L0,1M-0.7,-0.7L0.7,0.7M-0.7,0.7L0.7,-0.7", "size": 90, "stroke": "#ff0000", "strokeWidth": 1, "filled": false, "opacity": 1},
     "encoding": {"x": {"field": "x", "type": "quantitative", "scale": {"domain": [1, 1.7], "nice": false, "zero": false}, "axis": {"orient": "bottom", "values": [1, 1.1, 1.2, 1.3, 1.4, 1.5, 1.6], "format": "~r", "title": "Stretch"}},
                  "y": {"field": "y", "type": "quantitative", "scale": {"domain": [-2, 8], "nice": false, "zero": false}, "axis": {"orient": "left", "values": [-2, 0, 2, 4, 6, 8], "labelExpr": "replace(format(datum.value, '~r'), '−', '-')", "title": "Stress(Pa)", "titlePadding": 2}}}},
    {"data": {"name": "fit"}, "transform": [{"filter": "datum.s === 'Adult04'"}], "mark": {"type": "line", "color": "#0000ff", "strokeWidth": 1},
     "encoding": {"x": {"field": "x", "type": "quantitative", "scale": {"domain": [1, 1.7], "nice": false, "zero": false}, "axis": {"orient": "top", "values": [1, 1.1, 1.2, 1.3, 1.4, 1.5, 1.6], "title": "×10⁴"}},
                  "y": {"field": "y", "type": "quantitative", "scale": {"domain": [-2, 8], "nice": false, "zero": false}, "axis": {"orient": "right", "values": [-2, 0, 2, 4, 6, 8], "title": null}}}},
    {"data": {"name": "reg"}, "transform": [{"filter": "datum.s === 'Adult04'"}], "mark": {"type": "rect", "fill": "#E9833B", "fillOpacity": 0.46, "stroke": "#47719D", "strokeWidth": 2.5, "strokeOpacity": 1},
     "encoding": {"x": {"field": "x0", "type": "quantitative", "scale": {"domain": [1, 1.7], "nice": false, "zero": false}, "axis": null}, "x2": {"field": "x1"}}}
   ],
   "resolve": {"axis": {"x": "independent", "y": "independent"}}}
 ], "spacing": 48}
], "spacing": 61},
{"hconcat": [
 {"hconcat": [
  {"width": 382, "height": 262, "title": "Aged01",
   "layer": [
    {"data": {"name": "pts"}, "transform": [{"filter": "datum.s === 'Aged01'"}], "mark": {"type": "point", "shape": "M-1,0L1,0M0,-1L0,1M-0.7,-0.7L0.7,0.7M-0.7,0.7L0.7,-0.7", "size": 90, "stroke": "#ff0000", "strokeWidth": 1, "filled": false, "opacity": 1},
     "encoding": {"x": {"field": "x", "type": "quantitative", "scale": {"domain": [1, 1.7], "nice": false, "zero": false}, "axis": {"orient": "bottom", "values": [1, 1.1, 1.2, 1.3, 1.4, 1.5, 1.6], "format": "~r", "title": "Stretch"}},
                  "y": {"field": "y", "type": "quantitative", "scale": {"domain": [0, 3.5], "nice": false, "zero": false}, "axis": {"orient": "left", "values": [0, 0.5, 1, 1.5, 2, 2.5, 3, 3.5], "labelExpr": "replace(format(datum.value, '~r'), '−', '-')", "title": "Stress(Pa)", "titlePadding": 7}}}},
    {"data": {"name": "fit"}, "transform": [{"filter": "datum.s === 'Aged01'"}], "mark": {"type": "line", "color": "#0000ff", "strokeWidth": 1},
     "encoding": {"x": {"field": "x", "type": "quantitative", "scale": {"domain": [1, 1.7], "nice": false, "zero": false}, "axis": {"orient": "top", "values": [1, 1.1, 1.2, 1.3, 1.4, 1.5, 1.6], "title": "×10⁴"}},
                  "y": {"field": "y", "type": "quantitative", "scale": {"domain": [0, 3.5], "nice": false, "zero": false}, "axis": {"orient": "right", "values": [0, 0.5, 1, 1.5, 2, 2.5, 3, 3.5], "title": null}}}},
    {"data": {"name": "reg"}, "transform": [{"filter": "datum.s === 'Aged01'"}], "mark": {"type": "rect", "fill": "#E9833B", "fillOpacity": 0.46, "stroke": "#47719D", "strokeWidth": 2.5, "strokeOpacity": 1},
     "encoding": {"x": {"field": "x0", "type": "quantitative", "scale": {"domain": [1, 1.7], "nice": false, "zero": false}, "axis": null}, "x2": {"field": "x1"}}}
   ],
   "resolve": {"axis": {"x": "independent", "y": "independent"}}},
  {"width": 389, "height": 262, "title": "Aged02",
   "layer": [
    {"data": {"name": "pts"}, "transform": [{"filter": "datum.s === 'Aged02'"}], "mark": {"type": "point", "shape": "M-1,0L1,0M0,-1L0,1M-0.7,-0.7L0.7,0.7M-0.7,0.7L0.7,-0.7", "size": 90, "stroke": "#ff0000", "strokeWidth": 1, "filled": false, "opacity": 1},
     "encoding": {"x": {"field": "x", "type": "quantitative", "scale": {"domain": [1, 1.7], "nice": false, "zero": false}, "axis": {"orient": "bottom", "values": [1, 1.1, 1.2, 1.3, 1.4, 1.5, 1.6], "format": "~r", "title": "Stretch"}},
                  "y": {"field": "y", "type": "quantitative", "scale": {"domain": [-1, 5], "nice": false, "zero": false}, "axis": {"orient": "left", "values": [-1, 0, 1, 2, 3, 4, 5], "labelExpr": "replace(format(datum.value, '~r'), '−', '-')", "title": "Stress(Pa)", "titlePadding": 10}}}},
    {"data": {"name": "fit"}, "transform": [{"filter": "datum.s === 'Aged02'"}], "mark": {"type": "line", "color": "#0000ff", "strokeWidth": 1},
     "encoding": {"x": {"field": "x", "type": "quantitative", "scale": {"domain": [1, 1.7], "nice": false, "zero": false}, "axis": {"orient": "top", "values": [1, 1.1, 1.2, 1.3, 1.4, 1.5, 1.6], "title": "×10⁴"}},
                  "y": {"field": "y", "type": "quantitative", "scale": {"domain": [-1, 5], "nice": false, "zero": false}, "axis": {"orient": "right", "values": [-1, 0, 1, 2, 3, 4, 5], "title": null}}}},
    {"data": {"name": "reg"}, "transform": [{"filter": "datum.s === 'Aged02'"}], "mark": {"type": "rect", "fill": "#E9833B", "fillOpacity": 0.46, "stroke": "#47719D", "strokeWidth": 2.5, "strokeOpacity": 1},
     "encoding": {"x": {"field": "x0", "type": "quantitative", "scale": {"domain": [1, 1.7], "nice": false, "zero": false}, "axis": null}, "x2": {"field": "x1"}}}
   ],
   "resolve": {"axis": {"x": "independent", "y": "independent"}}}
 ], "spacing": 57},
 {"hconcat": [
  {"width": 377, "height": 262, "title": "Aged03",
   "layer": [
    {"data": {"name": "pts"}, "transform": [{"filter": "datum.s === 'Aged03'"}], "mark": {"type": "point", "shape": "M-1,0L1,0M0,-1L0,1M-0.7,-0.7L0.7,0.7M-0.7,0.7L0.7,-0.7", "size": 90, "stroke": "#ff0000", "strokeWidth": 1, "filled": false, "opacity": 1},
     "encoding": {"x": {"field": "x", "type": "quantitative", "scale": {"domain": [1, 1.7], "nice": false, "zero": false}, "axis": {"orient": "bottom", "values": [1, 1.1, 1.2, 1.3, 1.4, 1.5, 1.6], "format": "~r", "title": "Stretch"}},
                  "y": {"field": "y", "type": "quantitative", "scale": {"domain": [-0.5, 3], "nice": false, "zero": false}, "axis": {"orient": "left", "values": [-0.5, 0, 0.5, 1, 1.5, 2, 2.5, 3], "labelExpr": "replace(format(datum.value, '~r'), '−', '-')", "title": "Stress(Pa)", "titlePadding": 8}}}},
    {"data": {"name": "fit"}, "transform": [{"filter": "datum.s === 'Aged03'"}], "mark": {"type": "line", "color": "#0000ff", "strokeWidth": 1},
     "encoding": {"x": {"field": "x", "type": "quantitative", "scale": {"domain": [1, 1.7], "nice": false, "zero": false}, "axis": {"orient": "top", "values": [1, 1.1, 1.2, 1.3, 1.4, 1.5, 1.6], "title": "×10⁴"}},
                  "y": {"field": "y", "type": "quantitative", "scale": {"domain": [-0.5, 3], "nice": false, "zero": false}, "axis": {"orient": "right", "values": [-0.5, 0, 0.5, 1, 1.5, 2, 2.5, 3], "title": null}}}},
    {"data": {"name": "reg"}, "transform": [{"filter": "datum.s === 'Aged03'"}], "mark": {"type": "rect", "fill": "#E9833B", "fillOpacity": 0.46, "stroke": "#47719D", "strokeWidth": 2.5, "strokeOpacity": 1},
     "encoding": {"x": {"field": "x0", "type": "quantitative", "scale": {"domain": [1, 1.7], "nice": false, "zero": false}, "axis": null}, "x2": {"field": "x1"}}}
   ],
   "resolve": {"axis": {"x": "independent", "y": "independent"}}},
  {"width": 389, "height": 262, "title": "Aged04",
   "layer": [
    {"data": {"name": "pts"}, "transform": [{"filter": "datum.s === 'Aged04'"}], "mark": {"type": "point", "shape": "M-1,0L1,0M0,-1L0,1M-0.7,-0.7L0.7,0.7M-0.7,0.7L0.7,-0.7", "size": 90, "stroke": "#ff0000", "strokeWidth": 1, "filled": false, "opacity": 1},
     "encoding": {"x": {"field": "x", "type": "quantitative", "scale": {"domain": [1, 1.7], "nice": false, "zero": false}, "axis": {"orient": "bottom", "values": [1, 1.1, 1.2, 1.3, 1.4, 1.5, 1.6], "format": "~r", "title": "Stretch"}},
                  "y": {"field": "y", "type": "quantitative", "scale": {"domain": [-1, 4], "nice": false, "zero": false}, "axis": {"orient": "left", "values": [-1, 0, 1, 2, 3, 4], "labelExpr": "replace(format(datum.value, '~r'), '−', '-')", "title": "Stress(Pa)", "titlePadding": 2}}}},
    {"data": {"name": "fit"}, "transform": [{"filter": "datum.s === 'Aged04'"}], "mark": {"type": "line", "color": "#0000ff", "strokeWidth": 1},
     "encoding": {"x": {"field": "x", "type": "quantitative", "scale": {"domain": [1, 1.7], "nice": false, "zero": false}, "axis": {"orient": "top", "values": [1, 1.1, 1.2, 1.3, 1.4, 1.5, 1.6], "title": "×10⁴"}},
                  "y": {"field": "y", "type": "quantitative", "scale": {"domain": [-1, 4], "nice": false, "zero": false}, "axis": {"orient": "right", "values": [-1, 0, 1, 2, 3, 4], "title": null}}}},
    {"data": {"name": "reg"}, "transform": [{"filter": "datum.s === 'Aged04'"}], "mark": {"type": "rect", "fill": "#E9833B", "fillOpacity": 0.46, "stroke": "#47719D", "strokeWidth": 2.5, "strokeOpacity": 1},
     "encoding": {"x": {"field": "x0", "type": "quantitative", "scale": {"domain": [1, 1.7], "nice": false, "zero": false}, "axis": null}, "x2": {"field": "x1"}}}
   ],
   "resolve": {"axis": {"x": "independent", "y": "independent"}}}
 ], "spacing": 58}
], "spacing": 39},
{"hconcat": [
 {"width": 388, "height": 262, "title": "Aged05",
  "layer": [
   {"data": {"name": "pts"}, "transform": [{"filter": "datum.s === 'Aged05'"}], "mark": {"type": "point", "shape": "M-1,0L1,0M0,-1L0,1M-0.7,-0.7L0.7,0.7M-0.7,0.7L0.7,-0.7", "size": 90, "stroke": "#ff0000", "strokeWidth": 1, "filled": false, "opacity": 1},
    "encoding": {"x": {"field": "x", "type": "quantitative", "scale": {"domain": [1, 1.7], "nice": false, "zero": false}, "axis": {"orient": "bottom", "values": [1, 1.1, 1.2, 1.3, 1.4, 1.5, 1.6], "format": "~r", "title": "Stretch"}},
                 "y": {"field": "y", "type": "quantitative", "scale": {"domain": [-1, 5], "nice": false, "zero": false}, "axis": {"orient": "left", "values": [-1, 0, 1, 2, 3, 4, 5], "labelExpr": "replace(format(datum.value, '~r'), '−', '-')", "title": "Stress(Pa)", "titlePadding": 3}}}},
   {"data": {"name": "fit"}, "transform": [{"filter": "datum.s === 'Aged05'"}], "mark": {"type": "line", "color": "#0000ff", "strokeWidth": 1},
    "encoding": {"x": {"field": "x", "type": "quantitative", "scale": {"domain": [1, 1.7], "nice": false, "zero": false}, "axis": {"orient": "top", "values": [1, 1.1, 1.2, 1.3, 1.4, 1.5, 1.6], "title": "×10⁴"}},
                 "y": {"field": "y", "type": "quantitative", "scale": {"domain": [-1, 5], "nice": false, "zero": false}, "axis": {"orient": "right", "values": [-1, 0, 1, 2, 3, 4, 5], "title": null}}}},
   {"data": {"name": "reg"}, "transform": [{"filter": "datum.s === 'Aged05'"}], "mark": {"type": "rect", "fill": "#E9833B", "fillOpacity": 0.46, "stroke": "#47719D", "strokeWidth": 2.5, "strokeOpacity": 1},
    "encoding": {"x": {"field": "x0", "type": "quantitative", "scale": {"domain": [1, 1.7], "nice": false, "zero": false}, "axis": null}, "x2": {"field": "x1"}}}
  ],
  "resolve": {"axis": {"x": "independent", "y": "independent"}}}
]}
],
"columns": 1,
"align": "none",
"spacing": 56,
"config": {
 "font": "Liberation Sans",
 "view": {"stroke": "#6e6e6e", "strokeWidth": 1},
 "title": {"fontSize": 29, "fontWeight": "bold", "color": "#000000", "font": "Liberation Sans", "frame": "group", "anchor": "middle", "offset": -14},
 "axis": {"grid": false, "domain": false, "tickColor": "#6e6e6e", "tickSize": -5, "labelFont": "Liberation Sans", "labelFontSize": 17, "labelColor": "#262626", "titleFont": "Liberation Sans", "titleFontSize": 29, "titleFontWeight": "normal", "titleColor": "#262626", "labelPadding": 11, "labelFlush": false, "labelOverlap": false},
 "axisBottom": {"titlePadding": 9, "labelPadding": 14},
 "axisLeft": {"titlePadding": 7, "minExtent": 0},
 "axisTop": {"labels": false, "titleFontSize": 17, "titleAnchor": "start", "titleAlign": "left", "titlePadding": 3, "titleColor": "#404040"},
 "axisRight": {"labels": false, "minExtent": 0, "maxExtent": 0}
}
}
